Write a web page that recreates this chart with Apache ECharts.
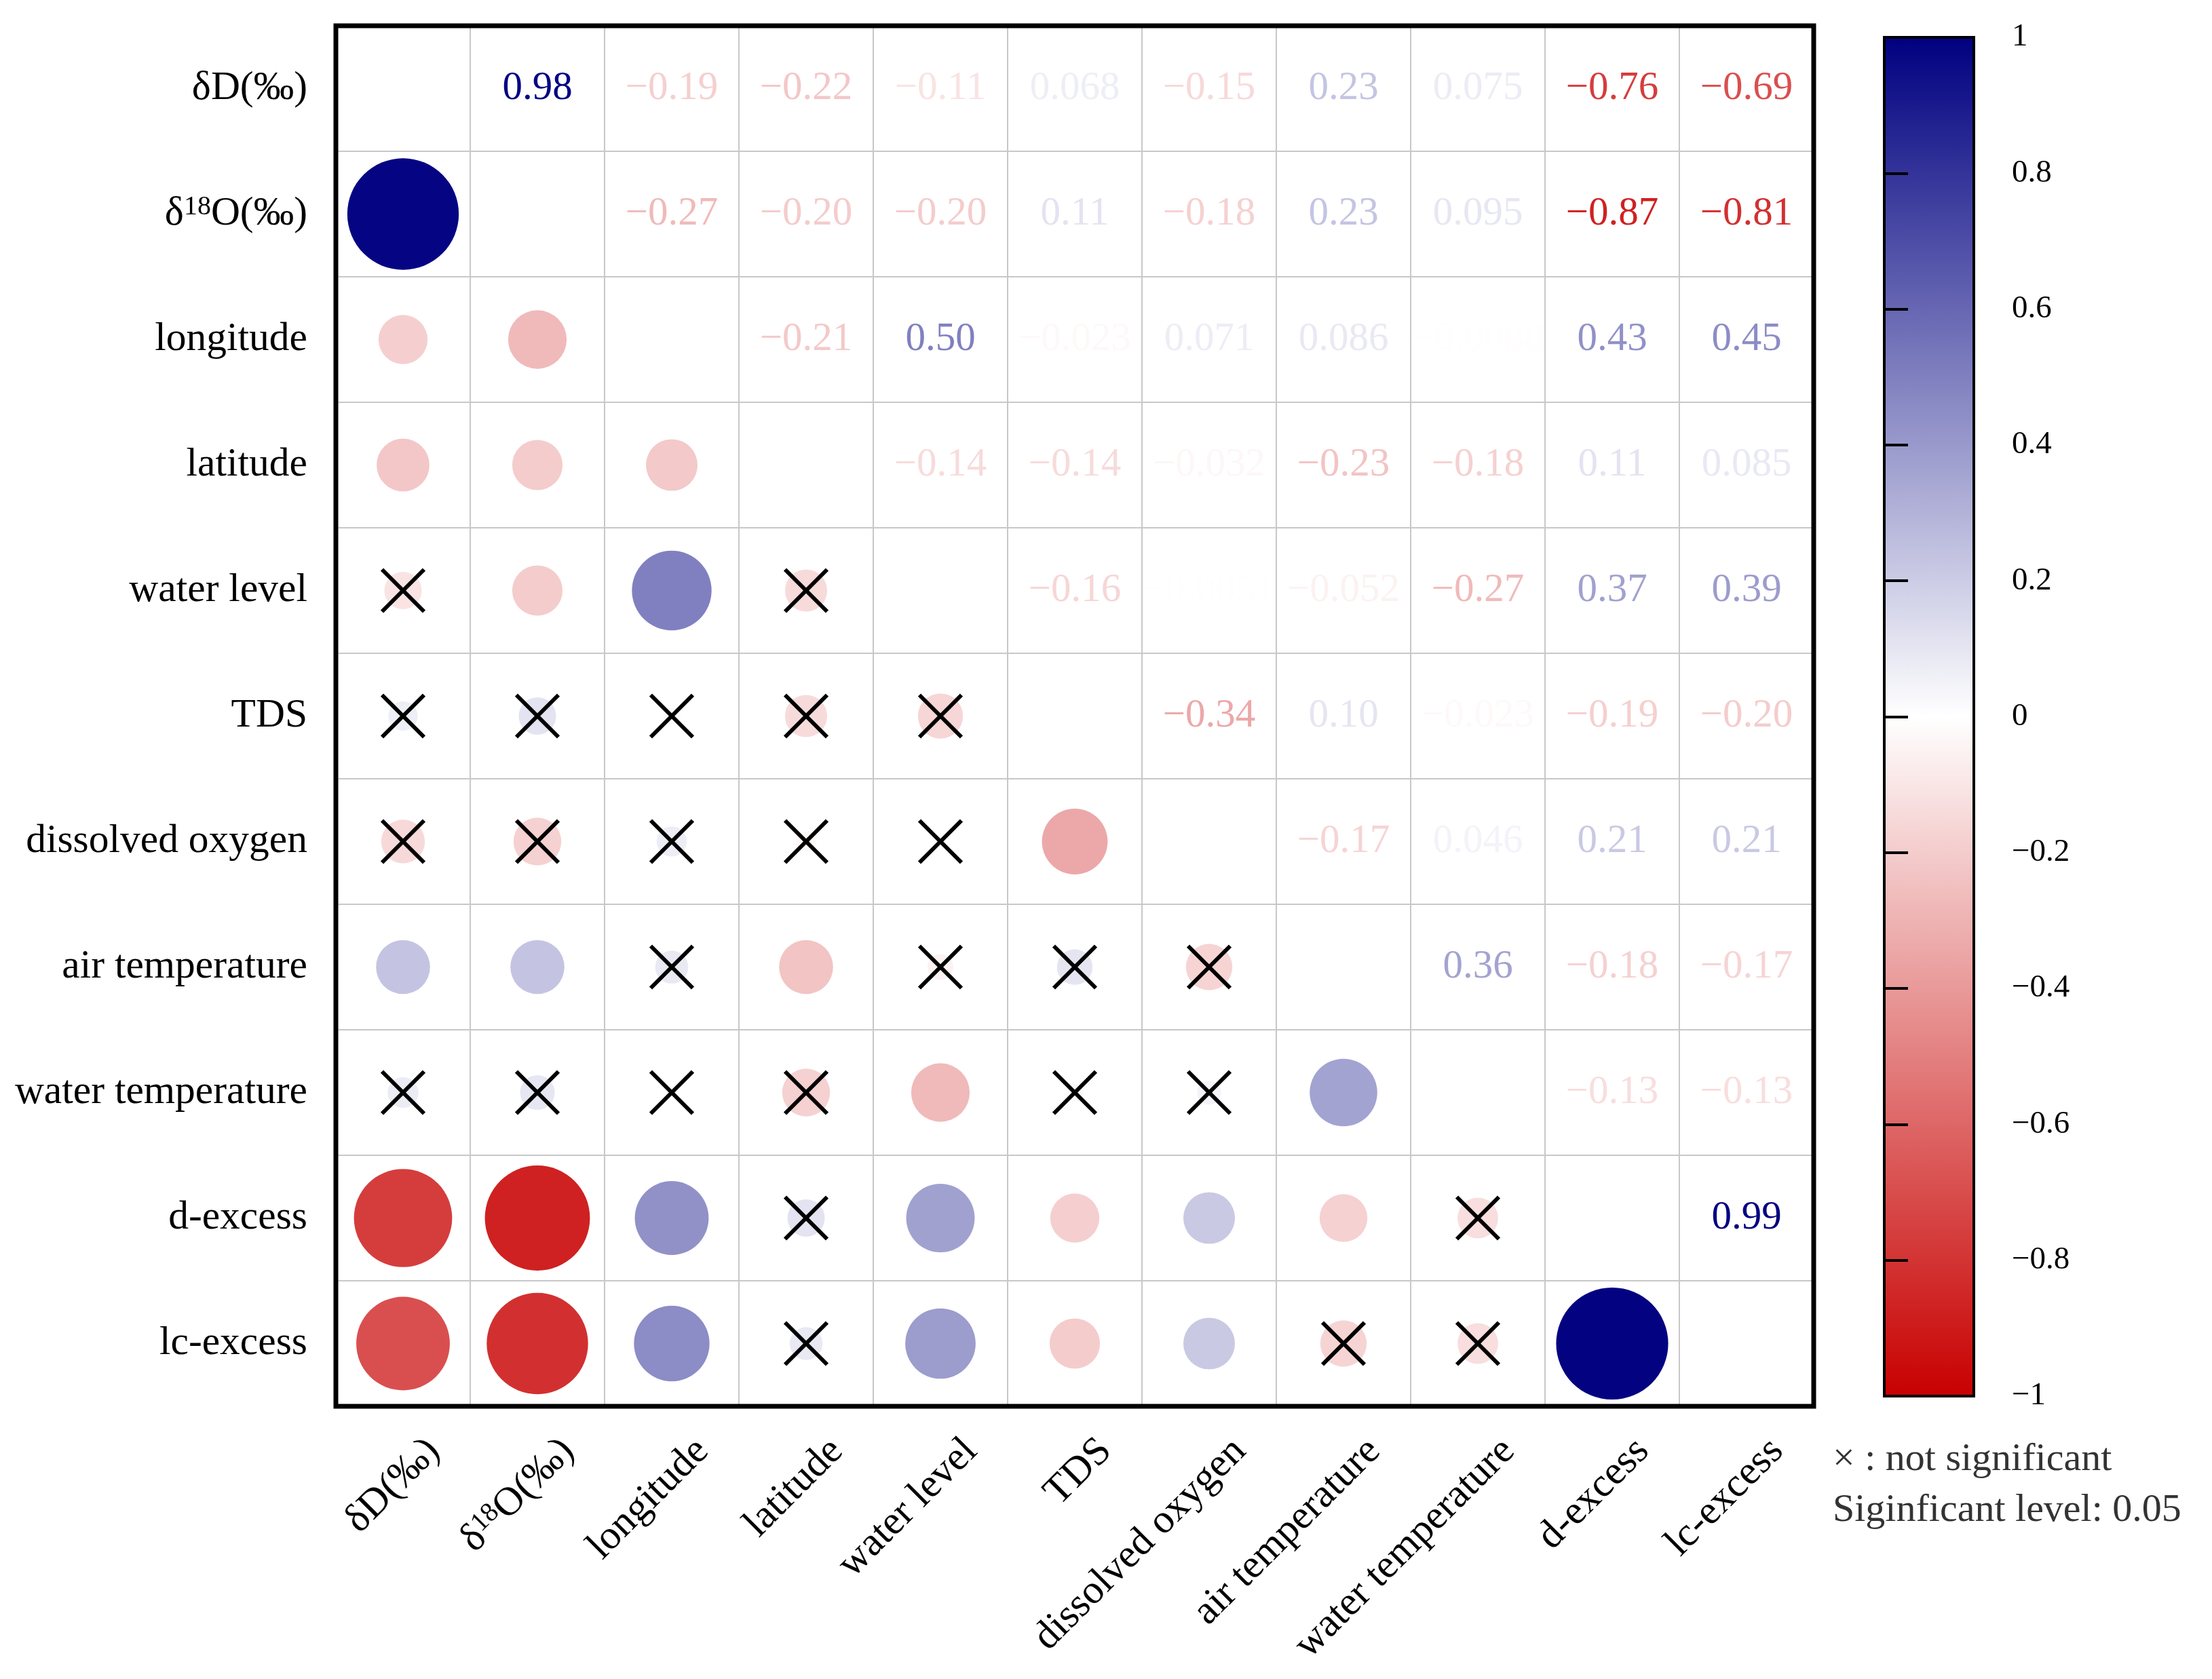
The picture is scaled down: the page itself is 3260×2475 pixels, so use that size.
<!DOCTYPE html>
<html>
<head>
<meta charset="utf-8">
<title>correlation plot</title>
<script src="https://cdn.jsdelivr.net/npm/echarts@6/dist/echarts.min.js"></script>
<style>
  html, body { margin: 0; padding: 0; background: #fff; }
  #chart { width: 3260px; height: 2475px; }
</style>
</head>
<body>
<div id="chart"></div>
<script>
// variables, top to bottom / left to right
var variables = ['δD(‰)', 'δ18O(‰)', 'longitude', 'latitude', 'water level', 'TDS',
                 'dissolved oxygen', 'air temperature', 'water temperature', 'd-excess', 'lc-excess'];

// upper triangle: corrUpper[i][k] = r(i, i + 1 + k)
var corrUpper = [
    [0.98, -0.19, -0.22, -0.11, 0.068, -0.15, 0.23, 0.075, -0.76, -0.69],
    [-0.27, -0.20, -0.20, 0.11, -0.18, 0.23, 0.095, -0.87, -0.81],
    [-0.21, 0.50, -0.023, 0.071, 0.086, -0.0088, 0.43, 0.45],
    [-0.14, -0.14, -0.032, -0.23, -0.18, 0.11, 0.085],
    [-0.16, -0.0051, -0.052, -0.27, 0.37, 0.39],
    [-0.34, 0.10, -0.023, -0.19, -0.20],
    [-0.17, 0.046, 0.21, 0.21],
    [0.36, -0.18, -0.17],
    [-0.13, -0.13],
    [0.99]
];

// [row, col] of the not significant pairs (lower triangle)
var notSignificant = [
    [4, 0], [4, 3],
    [5, 0], [5, 1], [5, 2], [5, 3], [5, 4],
    [6, 0], [6, 1], [6, 2], [6, 3], [6, 4],
    [7, 2], [7, 4], [7, 5], [7, 6],
    [8, 0], [8, 1], [8, 2], [8, 3], [8, 5], [8, 6],
    [9, 3], [9, 8],
    [10, 3], [10, 7], [10, 8]
];

var colorStops = ['#c80000', '#ffffff', '#000080'];   // -1, 0, 1
var legendLines = ['× : not significant', 'Siginficant level: 0.05'];

var FONT = '"Liberation Serif", "Times New Roman", serif';

function corr(i, j) {
    if (i === j) return 1;
    var a = Math.min(i, j), b = Math.max(i, j);
    return corrUpper[a][b - a - 1];
}

function fmt(v) {
    var a = Math.abs(v);
    var s = a >= 0.1 ? a.toFixed(2) : a.toPrecision(2);
    return (v < 0 ? '−' : '') + s;
}

function labelText(name) {
    if (name === 'δ18O(‰)') return '{n|δ}{s|18}{n|O(‰)}';
    return '{n|' + name + '}';
}

var circleData = [], textData = [];
for (var i = 0; i < variables.length; i++) {
    for (var j = 0; j < variables.length; j++) {
        if (j < i) circleData.push([j, i, corr(i, j)]);
        if (j > i) textData.push([j, i, corr(i, j)]);
    }
}
var crossData = notSignificant.map(function (p) { return [p[1], p[0], corr(p[0], p[1])]; });

var richLabel = {
    n: { fontFamily: FONT, fontSize: 59.5, color: '#000' },
    s: { fontFamily: FONT, fontSize: 40, color: '#000', verticalAlign: 'top', padding: [0, 0, 20, 0] }
};

var chart = echarts.init(document.getElementById('chart'));

var option = {
    backgroundColor: '#fff',
    animation: false,
    grid: [
        { left: 495, top: 38, width: 2178, height: 2035, show: false },
        {
            left: 2777, top: 55, width: 132, height: 2003, show: true,
            borderColor: '#000', borderWidth: 4,
            backgroundColor: new echarts.graphic.LinearGradient(0, 0, 0, 1, [
                { offset: 0, color: colorStops[2] },
                { offset: 0.5, color: colorStops[1] },
                { offset: 1, color: colorStops[0] }
            ])
        }
    ],
    xAxis: [
        {
            type: 'category', gridIndex: 0, data: variables,
            axisLine: { show: false }, axisTick: { show: false },
            splitLine: { show: true, interval: 0, lineStyle: { color: '#c8c8c8', width: 2 } },
            axisLabel: {
                interval: 0, rotate: 45, align: 'right', verticalAlign: 'top',
                margin: 2, padding: [41, 7, 0, 0],
                formatter: labelText, rich: richLabel
            }
        },
        { type: 'value', gridIndex: 1, show: false, min: 0, max: 1 }
    ],
    yAxis: [
        {
            type: 'category', gridIndex: 0, data: variables, inverse: true,
            axisLine: { show: false }, axisTick: { show: false },
            splitLine: { show: true, interval: 0, lineStyle: { color: '#c8c8c8', width: 2 } },
            axisLabel: { interval: 0, margin: 42, formatter: labelText, rich: richLabel }
        },
        {
            type: 'value', gridIndex: 1, position: 'right', min: -1, max: 1, interval: 0.2,
            axisLine: { show: true, lineStyle: { color: '#000', width: 4 } },
            axisTick: { show: true, length: 35, lineStyle: { color: '#000', width: 4 } },
            splitLine: { show: false },
            axisLabel: {
                margin: 56, fontFamily: FONT, fontSize: 47, color: '#000',
                formatter: function (v) {
                    var r = Math.round(v * 10) / 10;
                    return r < 0 ? '−' + Math.abs(r) : String(r);
                }
            }
        }
    ],
    visualMap: {
        type: 'continuous', show: false, min: -1, max: 1, dimension: 2,
        seriesIndex: [0, 2],
        inRange: { color: colorStops }
    },
    series: [
        {
            name: 'circles', type: 'scatter', xAxisIndex: 0, yAxisIndex: 0,
            symbol: 'circle',
            symbolSize: function (val) { return 166 * Math.sqrt(Math.abs(val[2])); },
            itemStyle: { opacity: 1 },
            data: circleData, z: 2
        },
        {
            name: 'not significant', type: 'custom', xAxisIndex: 0, yAxisIndex: 0,
            data: crossData, z: 4,
            renderItem: function (params, api) {
                var p = api.coord([api.value(0), api.value(1)]);
                var h = 31;
                var st = { stroke: '#000', lineWidth: 6 };
                return {
                    type: 'group',
                    children: [
                        { type: 'line', shape: { x1: p[0] - h, y1: p[1] - h, x2: p[0] + h, y2: p[1] + h }, style: st },
                        { type: 'line', shape: { x1: p[0] + h, y1: p[1] - h, x2: p[0] - h, y2: p[1] + h }, style: st }
                    ]
                };
            }
        },
        {
            name: 'values', type: 'custom', xAxisIndex: 0, yAxisIndex: 0,
            data: textData, z: 3,
            renderItem: function (params, api) {
                var p = api.coord([api.value(0), api.value(1)]);
                return {
                    type: 'text', x: p[0], y: p[1],
                    style: {
                        text: fmt(api.value(2)), fill: api.visual('color'),
                        fontFamily: FONT, fontSize: 59, align: 'center', verticalAlign: 'middle'
                    }
                };
            }
        }
    ],
    graphic: [
        {
            type: 'rect', z: 100, silent: true,
            shape: { x: 495, y: 38, width: 2178, height: 2035 },
            style: { fill: null, stroke: '#000', lineWidth: 7 }
        },
        {
            type: 'text', z: 100, x: 2701, y: 2152,
            style: { text: legendLines[0], fill: '#333', fontFamily: FONT, fontSize: 58, verticalAlign: 'middle' }
        },
        {
            type: 'text', z: 100, x: 2701, y: 2227,
            style: { text: legendLines[1], fill: '#333', fontFamily: FONT, fontSize: 58, verticalAlign: 'middle' }
        }
    ]
};

chart.setOption(option);
</script>
</body>
</html>
